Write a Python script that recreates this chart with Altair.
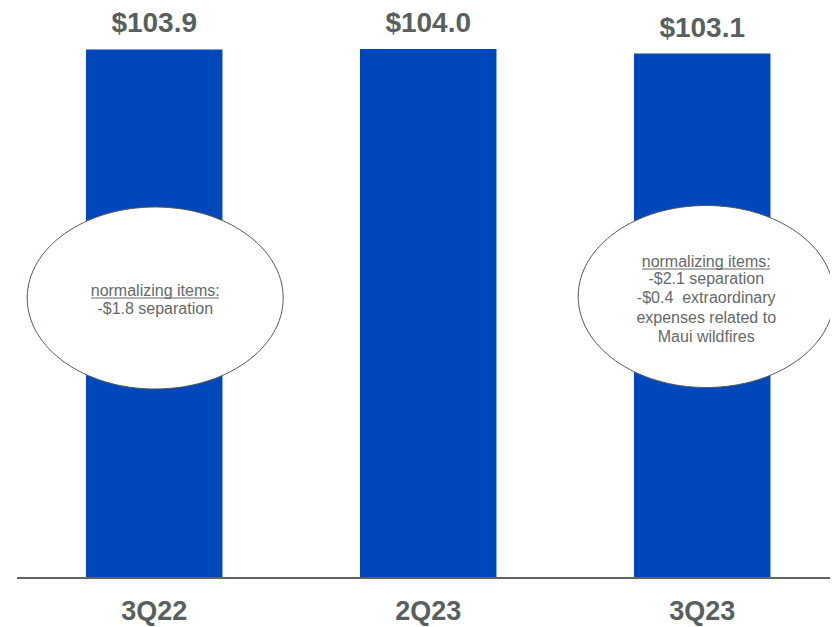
import altair as alt
import pandas as pd

# ---- data ----
quarters = ["3Q22", "2Q23", "3Q23"]
values = [103.9, 104.0, 103.1]

ann_quarters = ["3Q22", "3Q23"]
ann_titles = ["normalizing items:", "normalizing items:"]
ann_bodies = [
    "-$1.8 separation",
    "-$2.1 separation\n-$0.4\u00a0 extraordinary\nexpenses related to\nMaui wildfires",
]

YMAX = 112.05
FONT = "Liberation Sans"
BAR = "#0047BB"
DARK = "#595f5f"
SOFT = "#656969"

bars_df = pd.DataFrame({"q": quarters, "v": values})
bars_df["label"] = ["$" + f"{v:.1f}" for v in values]

xs = alt.Scale(domain=quarters, paddingInner=0.5018, paddingOuter=0.2509, align=0.567)
ys = alt.Scale(domain=[0, YMAX], nice=False, zero=True)
X = alt.X("q:N", scale=xs, axis=None, sort=quarters)

base = alt.Chart(bars_df)

bars = base.mark_bar(color=BAR).encode(x=X, y=alt.Y("v:Q", scale=ys, axis=None))

val_labels = base.mark_text(
    font=FONT, fontSize=28, fontWeight="bold", color=DARK, baseline="alphabetic", dy=-17
).encode(x=X, y=alt.Y("v:Q", scale=ys), text="label:N")

x_labels = base.mark_text(
    font=FONT, fontSize=27, fontWeight="bold", color=DARK, baseline="alphabetic", dy=42
).encode(x=X, y=alt.datum(0), text="q:N")

axis_line = base.mark_rule(color="#5f6363", strokeWidth=2).encode(
    x=alt.value(9), x2=alt.value(822), y=alt.datum(0)
)

# ellipse as custom symbol path (unit coords, ry/rx = 0.711)
k = 0.5523
b = 0.711
kb = round(k * b, 4)
bb = b
ellipse_path = (
    f"M1,0C1,{kb} {k},{bb} 0,{bb}C-{k},{bb} -1,{kb} -1,0"
    f"C-1,-{kb} -{k},-{bb} 0,-{bb}C{k},-{bb} 1,-{kb} 1,0Z"
)

ann_df = pd.DataFrame({"q": ann_quarters, "title": ann_titles, "body": ann_bodies})

def annotation(qname, ell_y, title_y, body_y, xoff):
    d = ann_df[ann_df.q == qname]
    c = alt.Chart(d)
    ell = c.mark_point(
        shape=ellipse_path, size=65536, filled=True, fill="white", fillOpacity=1,
        stroke="#4f5b5b", strokeWidth=1, opacity=1, xOffset=xoff
    ).encode(x=X, y=alt.value(ell_y))
    title = c.mark_text(
        font=FONT, fontSize=16, color=SOFT, baseline="middle", xOffset=xoff
    ).encode(x=X, y=alt.value(title_y), text="title:N")
    under = c.mark_rule(color=SOFT, strokeWidth=1, xOffset=xoff - 64, x2Offset=xoff + 64).encode(
        x=X, x2="q:N", y=alt.value(title_y + 7)
    )
    body = c.mark_text(
        font=FONT, fontSize=16, color=SOFT, baseline="top", lineBreak="\n", lineHeight=19.3,
        xOffset=xoff
    ).encode(x=X, y=alt.value(body_y), text="body:N")
    return [ell, title, under, body]

layers = [bars, axis_line, val_labels, x_labels]
layers += annotation("3Q22", 290, 283, 293, 1)
layers += annotation("3Q23", 288.5, 254, 263, 4)

chart = alt.layer(*layers).properties(
    width=822, height=570,
    autosize=alt.AutoSizeParams(type="none"),
    padding={"left": 0, "top": 0, "right": 0, "bottom": 50},
).configure_view(stroke=None)

chart.save("out.html", embed_options={"renderer": "svg", "actions": False})
